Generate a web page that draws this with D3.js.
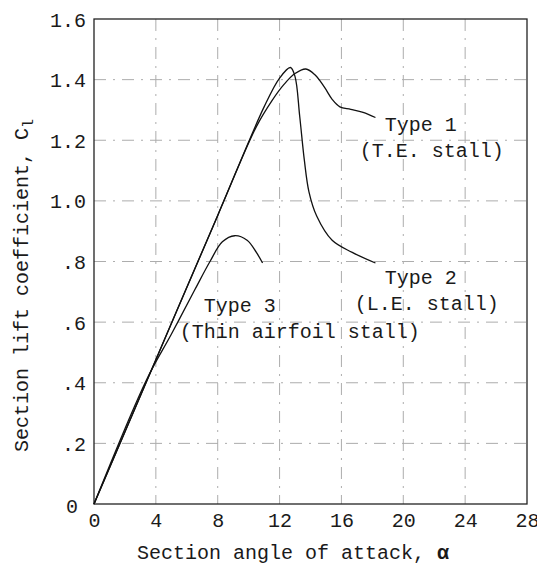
<!DOCTYPE html>
<html>
<head>
<meta charset="utf-8">
<script src="https://cdn.jsdelivr.net/npm/d3@7"></script>
<style>
  body { margin: 0; background: #fff; }
  svg text { font-family: "Liberation Mono", "DejaVu Sans Mono", monospace; fill: #1a1a1a; }
</style>
</head>
<body>
<svg width="537" height="564"></svg>
<script>
// section angle of attack (deg) and lift coefficient for each stall type
var alpha1 = [0, 4, 8, 10.5, 11.5, 12.3, 13.0, 13.7, 14.3, 14.9, 15.4, 15.9, 16.6, 17.4, 18.2];
var cl1    = [0, 0.476, 0.952, 1.245, 1.33, 1.385, 1.42, 1.435, 1.415, 1.375, 1.335, 1.31, 1.302, 1.292, 1.275];

var alpha2 = [0, 4, 8, 11, 12, 12.7, 13.0, 13.3, 13.6, 13.9, 14.4, 15.4, 16.7, 18.2];
var cl2    = [0, 0.476, 0.952, 1.31, 1.405, 1.44, 1.41, 1.28, 1.135, 1.03, 0.95, 0.87, 0.83, 0.795];

var alpha3 = [0, 3.4, 5, 6.5, 7.5, 8.3, 9.1, 9.9, 10.5, 10.9];
var cl3    = [0, 0.41, 0.56, 0.705, 0.80, 0.865, 0.885, 0.87, 0.83, 0.795];

var xTicks = [0, 4, 8, 12, 16, 20, 24, 28];
var yTicks = [0, 0.2, 0.4, 0.6, 0.8, 1.0, 1.2, 1.4, 1.6];
var yTickLabels = ["0", ".2", ".4", ".6", ".8", "1.0", "1.2", "1.4", "1.6"];

var curveLabels = [
    {a: 18.8, c: 1.23, lines: ["Type 1", "(T.E. stall)"], dx: [0, -25]},
    {a: 18.8, c: 0.725, lines: ["Type 2", "(L.E. stall)"], dx: [0, -30]},
    {a: 7.1,  c: 0.635, lines: ["Type 3", "(Thin airfoil stall)"], dx: [0, -24]}
];

var svg = d3.select("svg"),
    mLeft = 94, mRight = 527, mTop = 19, mBottom = 504;

var x = d3.scaleLinear().domain([0, 28]).range([mLeft, mRight]);
var y = d3.scaleLinear().domain([0, 1.6]).range([mBottom, mTop]);

// dash-dot grid
var grid = svg.append("g")
    .attr("stroke", "#777")
    .attr("stroke-width", 1)
    .attr("stroke-dasharray", "12,7,2,7")
    .attr("opacity", 0.6);

grid.selectAll(".vg")
    .data(xTicks.slice(1, -1))
    .enter().append("line")
    .attr("x1", function(d) { return x(d); })
    .attr("x2", function(d) { return x(d); })
    .attr("y1", mTop)
    .attr("y2", mBottom);

grid.selectAll(".hg")
    .data(yTicks.slice(1, -1))
    .enter().append("line")
    .attr("x1", mLeft)
    .attr("x2", mRight)
    .attr("y1", function(d) { return y(d); })
    .attr("y2", function(d) { return y(d); });

// frame
svg.append("rect")
    .attr("x", mLeft)
    .attr("y", mTop)
    .attr("width", mRight - mLeft)
    .attr("height", mBottom - mTop)
    .attr("fill", "none")
    .attr("stroke", "#222")
    .attr("stroke-width", 1.3);

// axes (labels only)
var xAxis = svg.append("g")
    .attr("transform", "translate(0," + mBottom + ")")
    .call(d3.axisBottom(x).tickValues(xTicks).tickSize(0).tickPadding(9).tickFormat(d3.format("d")));

var yAxis = svg.append("g")
    .attr("transform", "translate(" + mLeft + ",0)")
    .call(d3.axisLeft(y).tickValues(yTicks).tickSize(0).tickPadding(8)
        .tickFormat(function(d, i) { return yTickLabels[i]; }));

svg.selectAll(".domain").remove();
svg.selectAll(".tick text")
    .attr("font-family", "Liberation Mono, monospace")
    .attr("font-size", 20)
    .attr("fill", "#1a1a1a");

yAxis.selectAll(".tick text")
    .attr("dx", function(d) { return d === 0 ? -8 : 0; })
    .attr("dy", function(d) { return d === 0 ? "0.4em" : "0.35em"; });

// curves
var line = d3.line()
    .x(function(d) { return x(d[0]); })
    .y(function(d) { return y(d[1]); })
    .curve(d3.curveCatmullRom.alpha(0.5));

[[alpha1, cl1], [alpha2, cl2], [alpha3, cl3]].forEach(function(s) {
    svg.append("path")
        .datum(d3.zip(s[0], s[1]))
        .attr("d", line)
        .attr("fill", "none")
        .attr("stroke", "#111")
        .attr("stroke-width", 1.3);
});

// curve labels
curveLabels.forEach(function(l) {
    var t = svg.append("text")
        .attr("x", x(l.a))
        .attr("y", y(l.c))
        .attr("font-size", 20);
    l.lines.forEach(function(s, i) {
        t.append("tspan")
            .attr("x", x(l.a) + l.dx[i])
            .attr("dy", i === 0 ? 0 : 26)
            .text(s);
    });
});

// axis titles
svg.append("text")
    .attr("x", 137)
    .attr("y", 559)
    .attr("font-size", 20)
    .text("Section angle of attack, ")
    .append("tspan")
    .attr("font-weight", "bold")
    .text("\u03b1");

var yt = svg.append("text")
    .attr("transform", "translate(28,452) rotate(-90)")
    .attr("font-size", 20)
    .text("Section lift coefficient, C");
yt.append("tspan")
    .attr("font-size", 15)
    .attr("dy", 5)
    .text("l");
</script>
</body>
</html>
